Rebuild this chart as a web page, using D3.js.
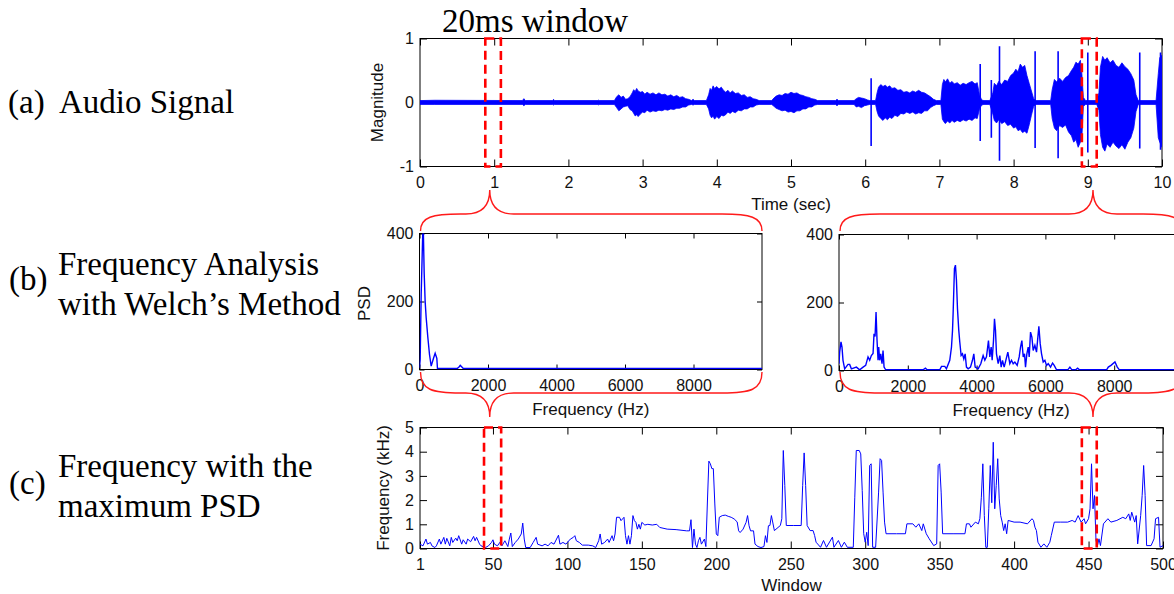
<!DOCTYPE html>
<html><head><meta charset="utf-8">
<script src="https://cdn.jsdelivr.net/npm/d3@7/dist/d3.min.js"></script>
<style>
html,body{margin:0;padding:0;background:#fff;}
svg{display:block;}
.serif{font-family:"Liberation Serif","Times New Roman",serif;fill:#000;}
.sans{font-family:"Liberation Sans",Arial,sans-serif;fill:#111;}
</style></head>
<body><svg id="chart" width="1174" height="594"></svg>
<script>
// ---------- DATA ----------
// (a) audio signal envelope (time in sec, upper / lower magnitude)
const envT  = [0,0.2,1.38,1.40,1.42,1.79,1.80,1.81,2.40,2.41,2.42,
  2.62,2.65,2.68,2.71,2.74,2.77,2.80,2.83,2.86,2.88,2.90,2.92,2.94,2.97,3.00,3.03,3.06,3.10,3.14,3.18,3.22,3.26,3.30,3.34,3.38,3.42,3.46,3.50,3.54,3.58,3.62,
  3.66,3.68,3.70,3.86,3.89,3.91,3.93,3.95,3.97,4.00,4.03,4.06,4.09,4.12,4.15,4.18,4.21,4.25,4.29,4.33,4.37,4.41,4.45,4.49,4.53,4.57,
  4.74,4.77,4.80,4.84,4.88,4.92,4.96,5.00,5.04,5.08,5.12,5.16,5.20,5.24,5.28,5.32,5.36,
  5.60,5.62,5.64,5.85,5.88,5.91,5.95,5.99,6.03,6.06,
  6.14,6.16,6.18,6.21,6.24,6.27,6.30,6.33,6.36,6.40,6.44,6.48,6.52,6.56,6.60,6.64,6.68,6.72,6.76,6.80,6.84,6.88,6.92,6.96,
  7.02,7.04,7.06,7.08,7.11,7.14,7.17,7.20,7.24,7.28,7.32,7.36,7.40,7.44,7.48,7.51,7.54,7.57,7.60,7.68,
  7.72,7.74,7.77,7.80,7.84,7.88,7.92,7.96,8.00,8.03,8.06,8.09,8.12,8.15,8.18,8.21,8.24,8.27,8.30,
  8.50,8.52,8.55,8.58,8.62,8.66,8.70,8.74,8.78,8.81,8.84,8.87,8.90,8.92,8.94,8.97,
  9.12,9.15,9.17,9.20,9.23,9.26,9.30,9.34,9.38,9.42,9.46,9.50,9.54,9.58,9.62,9.65,9.68,
  9.92,9.95,9.97,10.0];
const envHi = [.03,.035,.03,.06,.03,.03,.05,.03,.03,.04,.03,
  .03,.09,.12,.08,.10,.05,.06,.09,.15,.20,.17,.22,.18,.16,.17,.13,.16,.13,.15,.12,.15,.12,.13,.10,.12,.09,.11,.08,.09,.06,.05,
  .03,.05,.03,.03,.12,.22,.19,.26,.22,.25,.21,.24,.19,.16,.19,.15,.18,.14,.15,.11,.12,.08,.09,.06,.05,.03,
  .03,.07,.10,.12,.11,.14,.13,.16,.14,.15,.12,.11,.09,.08,.06,.05,.03,
  .03,.05,.03,.03,.06,.08,.07,.06,.04,.03,
  .03,.15,.24,.28,.25,.27,.24,.26,.22,.23,.19,.20,.16,.17,.15,.18,.16,.19,.16,.15,.12,.09,.05,.03,
  .03,.28,.36,.32,.37,.30,.33,.29,.31,.27,.30,.28,.31,.33,.29,.31,.12,.04,.03,.03,
  .15,.30,.26,.33,.28,.35,.33,.42,.46,.52,.48,.60,.55,.58,.42,.30,.18,.06,.03,
  .03,.20,.36,.32,.38,.33,.39,.42,.50,.55,.63,.60,.66,.45,.08,.03,
  .03,.15,.55,.72,.66,.70,.62,.66,.58,.55,.62,.56,.52,.45,.35,.12,.03,
  .03,.45,.70,.74];
const envLo = [-.03,-.03,-.03,-.05,-.03,-.03,-.04,-.03,-.03,-.04,-.03,
  -.03,-.08,-.13,-.10,-.07,-.06,-.05,-.11,-.13,-.17,-.21,-.19,-.22,-.18,-.15,-.16,-.12,-.15,-.13,-.14,-.12,-.13,-.11,-.12,-.10,-.11,-.09,-.09,-.07,-.07,-.04,
  -.03,-.04,-.03,-.03,-.10,-.20,-.24,-.21,-.26,-.22,-.25,-.20,-.21,-.19,-.15,-.17,-.14,-.16,-.12,-.13,-.10,-.10,-.07,-.07,-.04,-.03,
  -.03,-.06,-.09,-.11,-.13,-.12,-.15,-.14,-.16,-.13,-.13,-.10,-.10,-.07,-.07,-.04,-.03,
  -.03,-.05,-.03,-.03,-.07,-.06,-.08,-.05,-.04,-.03,
  -.03,-.14,-.21,-.25,-.28,-.24,-.27,-.23,-.25,-.20,-.22,-.17,-.18,-.15,-.17,-.15,-.18,-.16,-.17,-.13,-.13,-.08,-.05,-.03,
  -.03,-.26,-.30,-.33,-.29,-.32,-.28,-.31,-.28,-.30,-.27,-.29,-.26,-.28,-.24,-.25,-.10,-.04,-.03,-.03,
  -.18,-.28,-.32,-.27,-.33,-.30,-.36,-.34,-.40,-.38,-.44,-.42,-.47,-.45,-.48,-.35,-.20,-.06,-.03,
  -.03,-.25,-.40,-.44,-.36,-.39,-.35,-.46,-.52,-.62,-.58,-.70,-.62,-.55,-.06,-.03,
  -.03,-.12,-.50,-.70,-.76,-.65,-.70,-.62,-.68,-.72,-.66,-.73,-.62,-.55,-.40,-.14,-.03,
  -.03,-.55,-.62,-.70];
// isolated spikes in the audio signal
const spikeT  = [6.08,7.55,7.70,7.81,8.29,8.60,9.00,9.70,9.98];
const spikeHi = [0.38,0.60,0.35,0.88,0.80,0.80,0.78,0.78,0.78];
const spikeLo = [-0.68,-0.60,-0.55,-0.91,-0.71,-0.87,-0.78,-0.72,-0.74];

// (b) Welch PSD, window near 1 s
const psd1Freq = [0,20,49,97,110,136,165,195,243,292,341,409,457,506,525,600,1100,1160,1190,1230,1280,10000];
const psd1Val  = [5,30,220,410,420,285,200,152,95,44,10,33,48,33,3,3,3,8,12,8,3,3];
// (b) Welch PSD, window near 9 s
const psd2Freq = [0,19,58,87,116,165,262,310,360,505,600,700,776,844,892,940,990,1018,1048,1077,1106,1135,1154,1183,1213,1251,1280,1310,1358,2444,2512,2560,2930,2980,3075,3123,3220,3270,3300,3317,3356,3385,3414,3444,3482,3511,3550,3589,3628,3667,3705,3754,3822,3880,3919,3958,4045,4122,4190,4239,4287,4345,4384,4423,4452,4491,4520,4549,4578,4627,4675,4714,4753,4801,4850,4908,4966,5015,5063,5112,5180,5238,5277,5316,5355,5393,5422,5461,5500,5529,5568,5607,5645,5694,5742,5772,5810,5849,5888,5936,5985,6033,6082,6150,6208,6256,6324,6650,6712,6770,6880,6936,6990,7780,7828,7906,8022,8090,8150,10000];
const psd2Val  = [20,54,84,69,30,5,18,18,5,10,2,10,15,40,30,44,50,108,100,172,88,30,69,30,49,20,59,10,2,2,7,2,2,12,12,5,30,69,118,167,300,310,265,182,118,84,44,49,34,49,10,5,10,30,49,10,5,20,44,30,40,88,40,69,30,88,152,118,49,20,44,10,30,10,30,54,20,30,20,25,15,40,69,88,40,49,10,49,69,40,113,98,59,74,54,88,130,79,49,25,30,15,20,10,22,15,2,2,10,2,2,7,2,2,10,15,25,10,2,2];

// (c) frequency with maximum PSD per window
const winIdx = [1,3,5,6,8,9,11,12,14,15,17,18,19,21,22,23,25,26,27,29,30,32,33,35,37,38,39,41,42,45,47,49,50,51,53,55,56,58,60,61,62,63,65,67,69,70,71,72,75,77,79,80,83,85,87,89,91,94,95,97,99,100,102,104,105,106,108,110,114,117,119,121,122,123,125,127,128,130,131,132,133,135,136,137,138,139,140,141,142,143,144,145,146,147,148,149,150,152,154,157,160,162,167,173,180,182,183,184,185,186,187,188,189,190,192,193,194,195,196,197,198,199,200,201,202,204,206,208,210,212,214,215,216,218,220,221,222,223,225,226,228,230,232,233,234,235,236,237,239,243,244,245,246,247,252,257,258,259,260,261,263,265,266,267,270,272,274,278,279,282,284,286,288,292,293,294,296,297,298,299,300,301,302,303,304,305,307,309,310,311,312,313,314,321,327,328,332,334,336,338,339,341,343,346,348,349,350,351,352,359,367,368,370,371,374,376,377,378,379,380,381,382,383,384,385,386,387,388,389,390,391,392,393,394,395,396,400,404,409,412,413,414,415,416,418,420,422,424,425,427,431,436,439,441,443,445,447,448,450,451,452,453,454,455,456,457,458,460,463,465,469,473,475,477,478,479,481,482,483,485,486,487,488,489,492,494,495,497,498,500];
const winKHz = [0.18,0.11,0.39,0.18,0.25,0.11,0.04,0.11,0.39,0.18,0.46,0.18,0.42,0.11,0.46,0.25,0.43,0.32,0.53,0.18,0.36,0.18,0.39,0.28,0.5,0.32,0.46,0.18,0.11,0.04,0.11,0.25,0.36,0.18,0.11,0.28,0.11,0.32,0.08,0.39,0.64,0.08,0.25,0.39,0.6,1.05,0.39,0.04,0.04,0.25,0.46,0.18,0.11,0.18,0.11,0.25,0.18,0.55,0.18,0.25,0.18,0.25,0.39,0.46,0.53,0.32,0.25,0.14,0.14,0.11,0.04,0.32,0.6,0.18,0.25,0.39,0.25,0.53,0.32,0.6,1.29,1.29,1.15,1.22,1.29,0.53,0.18,0.53,0.18,0.53,1.36,1.15,1.08,0.8,1.0,0.8,1.08,0.97,1.0,0.97,1.0,0.87,0.8,0.78,0.73,0.73,1.19,0.04,0.8,0.18,0.04,0.32,0.46,0.18,0.39,0.08,1.88,3.61,3.5,3.3,3.3,1.84,0.6,0.53,1.29,1.36,1.38,1.33,1.29,1.22,1.1,0.73,0.66,0.8,1.08,1.36,0.94,0.73,0.73,0.18,0.08,0.04,0.08,0.53,0.25,0.94,0.95,1.36,0.74,0.95,1.23,4.05,2.6,0.95,0.95,0.95,2.6,3.95,2.6,0.95,0.74,0.74,0.54,0.26,0.05,0.33,0.05,0.47,0.05,0.33,0.05,0.26,0.05,0.05,2.12,4.05,4.05,3.91,2.4,0.61,0.26,0.67,0.12,3.43,3.5,0.05,0.05,2.33,3.71,3.64,2.33,1.09,0.61,0.61,0.61,1.02,1.02,0.88,1.02,0.74,1.02,0.61,0.4,0.12,0.19,3.43,3.5,2.33,0.61,0.61,0.61,1.02,1.02,0.88,1.09,1.02,1.23,2.12,3.5,1.36,0.05,0.05,1.64,3.43,1.89,4.39,1.64,2.6,3.71,2.05,1.36,1.09,0.74,1.02,0.61,1.16,1.09,1.09,1.02,1.23,1.16,0.88,0.74,0.26,0.05,0.19,0.05,0.26,0.54,1.09,1.09,1.09,1.16,1.09,1.36,1.09,1.23,1.02,1.23,1.64,3.5,1.64,2.19,0.33,0.12,0.4,0.12,1.02,1.23,1.09,1.16,1.29,1.23,1.43,1.16,1.5,1.09,1.36,0.19,1.36,2.19,3.43,2.19,0.12,0.12,0.4,1.23,1.29,0.05,0.12];

// 20 ms analysis windows (time in s for (a), window index for (c))
const boxTime = [[0.88,1.09],[8.92,9.12]];
const boxWin  = [[44,55.5],[445.5,455.5]];
const braceTipTime = [0.94, 9.07];

// tick labels
const ticksTime = [0,1,2,3,4,5,6,7,8,9,10];
const ticksMag  = [-1,0,1];
const ticksFreq = [0,2000,4000,6000,8000];
const ticksPSD  = [0,200,400];
const ticksWin  = [1,50,100,150,200,250,300,350,400,450,500];
const ticksKHz  = [0,1,2,3,4,5];

// ---------- DRAWING ----------
const svg = d3.select('#chart');
svg.append('rect').attr('width',1174).attr('height',594).attr('fill','#fff');
const defs = svg.append('defs');
const BLUE = '#0000ff', RED = '#ff0000';

const PA  = {x0:420, x1:1162, y0:38.5, y1:166.5};
const PB1 = {x0:419.5, x1:762, y0:233.5, y1:369.5};
const PB2 = {x0:839, x1:1183, y0:234.5, y1:370.5};
const PC  = {x0:420, x1:1163, y0:427.5, y1:548.5};

function clip(id,p){
  defs.append('clipPath').attr('id',id).append('rect')
    .attr('x',p.x0).attr('y',p.y0).attr('width',p.x1-p.x0).attr('height',p.y1-p.y0);
}
clip('cA',PA); clip('cB1',PB1); clip('cB2',PB2); clip('cC',PC);

function axes(p, x, y, xt, yt, tl, xfmt, yfmt){
  const g = svg.append('g');
  g.append('rect').attr('x',p.x0).attr('y',p.y0).attr('width',p.x1-p.x0).attr('height',p.y1-p.y0)
    .attr('fill','none').attr('stroke','#000').attr('stroke-width',1);
  const style = s => { s.select('.domain').remove(); s.selectAll('line').attr('stroke','#000');
    s.selectAll('text').attr('class','sans').style('font-size','16px').attr('fill','#111'); };
  g.append('g').attr('transform',`translate(0,${p.y1})`)
    .call(d3.axisBottom(x).tickValues(xt).tickSize(-tl).tickPadding(10).tickSizeOuter(0).tickFormat(xfmt||d3.format('d'))).call(style);
  g.append('g').attr('transform',`translate(0,${p.y0})`)
    .call(d3.axisTop(x).tickValues(xt).tickSize(-tl).tickSizeOuter(0).tickFormat('')).call(style);
  g.append('g').attr('transform',`translate(${p.x0},0)`)
    .call(d3.axisLeft(y).tickValues(yt).tickSize(-tl).tickPadding(6).tickSizeOuter(0).tickFormat(yfmt||d3.format('d'))).call(style);
  g.append('g').attr('transform',`translate(${p.x1},0)`)
    .call(d3.axisRight(y).tickValues(yt).tickSize(-tl).tickSizeOuter(0).tickFormat('')).call(style);
  return g;
}

// ----- (a) audio signal -----
const xa = d3.scaleLinear().domain([0,10]).range([PA.x0,PA.x1]);
const ya = d3.scaleLinear().domain([-1,1]).range([PA.y1,PA.y0]);
axes(PA, xa, ya, ticksTime, ticksMag, 7, d3.format('d'), d => String(d));
const gA = svg.append('g').attr('clip-path','url(#cA)');
const area = d3.area().x(i=>xa(envT[i])).y0(i=>ya(envLo[i])).y1(i=>ya(envHi[i]));
gA.append('path').attr('d',area(d3.range(envT.length))).attr('fill',BLUE).attr('stroke',BLUE).attr('stroke-width',0.8);
gA.selectAll('line.spk').data(d3.range(spikeT.length)).join('line')
  .attr('x1',i=>xa(spikeT[i])).attr('x2',i=>xa(spikeT[i]))
  .attr('y1',i=>ya(spikeLo[i])).attr('y2',i=>ya(spikeHi[i]))
  .attr('stroke',BLUE).attr('stroke-width',1.6);
svg.append('text').attr('class','sans').style('font-size','17px')
  .attr('transform',`translate(383,${(PA.y0+PA.y1)/2}) rotate(-90)`).attr('text-anchor','middle').text('Magnitude');
svg.append('text').attr('class','sans').style('font-size','17px')
  .attr('x',(PA.x0+PA.x1)/2).attr('y',PA.y1+43.5).attr('text-anchor','middle').text('Time (sec)');

// ----- (b) PSD panels -----
function psdPanel(p, F, V, cid, showY){
  const x = d3.scaleLinear().domain([0,10000]).range([p.x0,p.x1]);
  const y = d3.scaleLinear().domain([0,400]).range([p.y1,p.y0]);
  axes(p, x, y, ticksFreq, ticksPSD, 5);
  const line = d3.line().x(i=>x(F[i])).y(i=>y(V[i]));
  svg.append('g').attr('clip-path',`url(#${cid})`).append('path')
    .attr('d',line(d3.range(F.length))).attr('fill','none').attr('stroke',BLUE).attr('stroke-width',1.4);
  svg.append('text').attr('class','sans').style('font-size','17px')
    .attr('x',(p.x0+p.x1)/2).attr('y',p.y1+45).attr('text-anchor','middle').text('Frequency (Hz)');
  if(showY) svg.append('text').attr('class','sans').style('font-size','17px')
    .attr('transform',`translate(370,${(p.y0+p.y1)/2+2}) rotate(-90)`).attr('text-anchor','middle').text('PSD');
}
psdPanel(PB1, psd1Freq, psd1Val, 'cB1', true);
psdPanel(PB2, psd2Freq, psd2Val, 'cB2', false);

// ----- (c) frequency with maximum PSD -----
const xc = d3.scaleLinear().domain([1,500]).range([PC.x0,PC.x1]);
const yc = d3.scaleLinear().domain([0,5]).range([PC.y1,PC.y0]);
axes(PC, xc, yc, ticksWin, ticksKHz, 7);
svg.append('g').attr('clip-path','url(#cC)').append('path')
  .attr('d', d3.line().x(i=>xc(winIdx[i])).y(i=>yc(winKHz[i]))(d3.range(winIdx.length)))
  .attr('fill','none').attr('stroke',BLUE).attr('stroke-width',1);
svg.append('text').attr('class','sans').style('font-size','17px')
  .attr('transform',`translate(389,${(PC.y0+PC.y1)/2}) rotate(-90)`).attr('text-anchor','middle').text('Frequency (kHz)');
svg.append('text').attr('class','sans').style('font-size','17px')
  .attr('x',(PC.x0+PC.x1)/2).attr('y',PC.y1+42).attr('text-anchor','middle').text('Window');

// ----- dashed 20 ms boxes -----
function boxes(list, x, p){
  svg.append('g').selectAll('rect').data(list).join('rect')
    .attr('x',d=>x(d[0])).attr('width',d=>x(d[1])-x(d[0]))
    .attr('y',p.y0).attr('height',p.y1-p.y0)
    .attr('fill','none').attr('stroke',RED).attr('stroke-width',2.6).attr('stroke-dasharray','9,5');
}
boxes(boxTime, xa, PA);
boxes(boxWin, xc, PC);

// ----- curly braces -----
function brace(x0,x1,tip,yEnd,yH,yTip){
  const s = Math.sign(yEnd-yH);
  return `M${x0},${yEnd} C${x0},${yH+s*3} ${x0+12},${yH} ${x0+40},${yH} L${tip-24},${yH} `+
    `C${tip-8},${yH} ${tip},${yH-s*8} ${tip},${yTip} C${tip},${yH-s*8} ${tip+8},${yH} ${tip+24},${yH} `+
    `L${x1-40},${yH} C${x1-12},${yH} ${x1},${yH+s*3} ${x1},${yEnd}`;
}
const bPanels = [PB1, PB2];
const gBr = svg.append('g').attr('fill','none').attr('stroke','#ff1a1a').attr('stroke-width',1.4);
braceTipTime.forEach((t,i)=>{
  const p = bPanels[i], tip = xa(t);
  gBr.append('path').attr('d', brace(p.x0+1, p.x1, tip, 231, 214, 190));
  gBr.append('path').attr('d', brace(p.x0+1, p.x1, tip, 372, 393, 417));
});

// ----- annotation texts -----
const T = (x,y,s)=>svg.append('text').attr('class','serif').style('font-size','33px').attr('x',x).attr('y',y).text(s);
T(442,32,'20ms window');
T(8,113,'(a)'); T(59,113,'Audio Signal');
T(9,290,'(b)'); T(58,275,'Frequency Analysis'); T(58,315,'with Welch\u2019s Method');
T(9,494,'(c)'); T(58,477,'Frequency with the'); T(58,517,'maximum PSD');
</script></body></html>
